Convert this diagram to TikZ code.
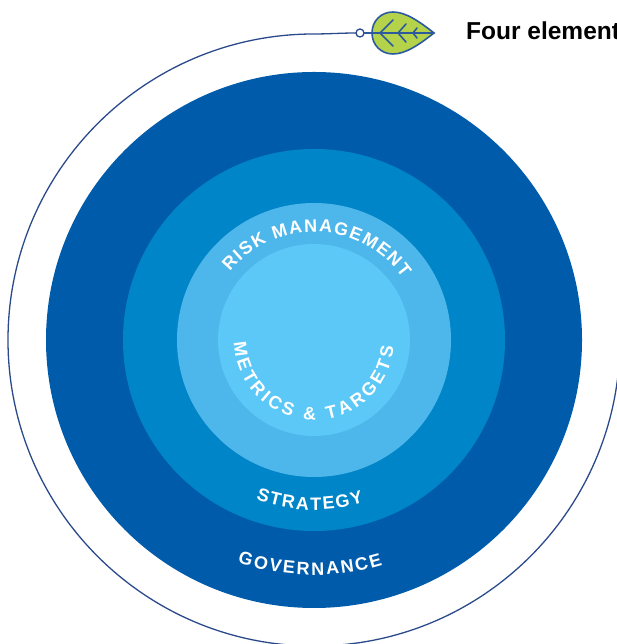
\documentclass[tikz,border=0pt]{standalone}
\usepackage{fontspec}
\setmainfont{Liberation Sans}
\usetikzlibrary{decorations.text}
\definecolor{ringA}{HTML}{005CAB}
\definecolor{ringB}{HTML}{0085C8}
\definecolor{ringC}{HTML}{4DB6EA}
\definecolor{ringD}{HTML}{5BC8F7}
\definecolor{navyline}{HTML}{2B4A8B}
\definecolor{leafgreen}{HTML}{B5D34A}
\definecolor{leafline}{HTML}{2D5A9E}
\newcommand{\ringfont}{\fontsize{18}{18}\selectfont\bfseries\color{white}}
\tikzset{
  x=1pt,y=1pt,
  ring/.style={fill=#1,draw=none},
  outline/.style={draw=navyline,line width=1.3pt},
  leafstroke/.style={draw=leafline,line width=1.6pt,line cap=round},
  fitted/.style={decorate,decoration={text along path,text align={align=center,fit to path},text={|\ringfont|#1}}},
}
\begin{document}
\begin{tikzpicture}
\useasboundingbox (0,0) rectangle (617,644);
\clip (0,0) rectangle (617,644);
\coordinate (c) at (314,304);
\fill[ring=ringA] (c) circle (268);
\fill[ring=ringB] (c) circle (191);
\fill[ring=ringC] (c) circle (137);
\fill[ring=ringD] (c) circle (96);
% outline
\draw[outline] (356,611) .. controls (342,611) and (328,610) .. (314,610) arc[start angle=90,end angle=360,radius=306];
\draw[outline,fill=white] (360,611) circle (4);
% leaf
\draw[leafstroke,fill=leafgreen] (434,611) .. controls (420,622) and (406,632) .. (393,632)
  .. controls (381,632) and (372,623) .. (372,611)
  .. controls (372,599) and (381,590) .. (393,590)
  .. controls (406,590) and (420,600) .. (434,611) -- cycle;
\draw[leafstroke] (364,611) -- (434,611);
\draw[leafstroke] (393,624) -- (380,611) -- (393,598);
\draw[leafstroke] (406,620) -- (398,611) -- (406,602);
\draw[leafstroke] (417,616) -- (413,611) -- (417,606);
\node[anchor=base west,inner sep=0pt,font=\bfseries\fontsize{24.5}{24.5}\selectfont] (title) at (466,604) {Four elements};
% curved labels
\path[fitted={RISK MANAGEMENT}] (c) ++(141:108) arc[start angle=141,end angle=35,radius=108];
\path[fitted={METRICS {\&} TARGETS}] (c) ++(182:80) arc[start angle=182,end angle=355,radius=80];
\path[fitted={STRATEGY}] (c) ++(250:170) arc[start angle=250,end angle=287,radius=170];
\path[fitted={GOVERNANCE}] (c) ++(251:235) arc[start angle=251,end angle=287,radius=235];
\end{tikzpicture}
\end{document}
